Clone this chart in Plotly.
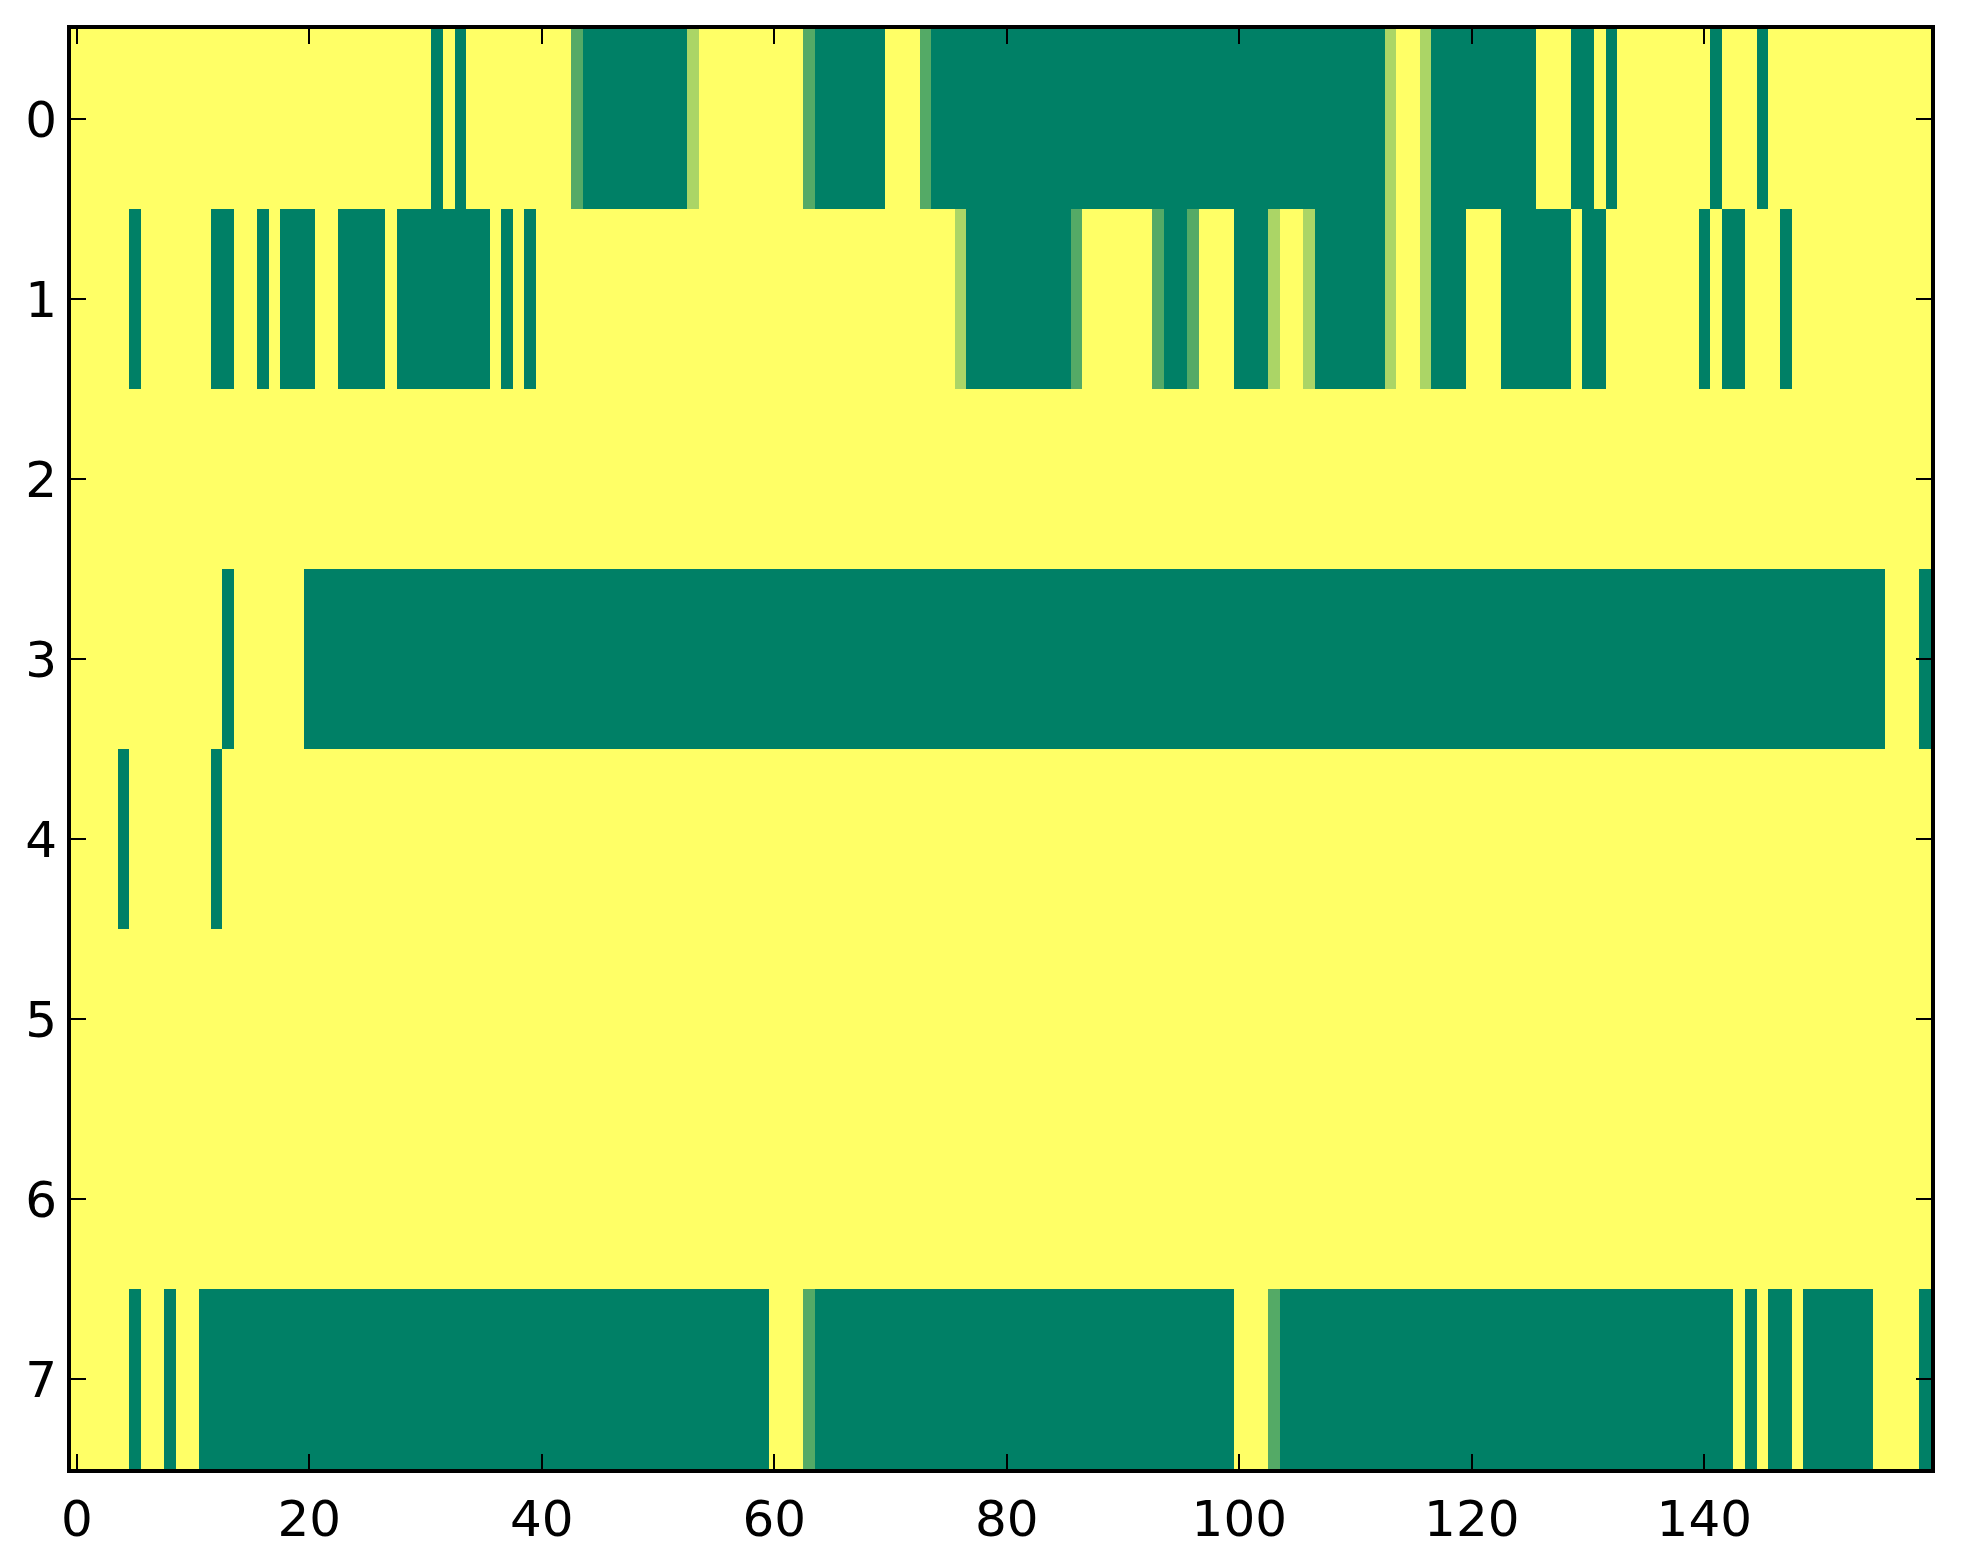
import plotly.graph_objects as go

# Run-length encoded rows: (value, count); 0 = green, 1 = yellow (summer colormap)
row0_runs = [(1, 31), (0, 1), (1, 1), (0, 1), (1, 9), (0.33, 1), (0, 9), (0.67, 1), (1, 9),
             (0.33, 1), (0, 6), (1, 3), (0.33, 1), (0, 39), (0.67, 1), (1, 2), (0.67, 1),
             (0, 9), (1, 3), (0, 2), (1, 1), (0, 1), (1, 8), (0, 1), (1, 3), (0, 1), (1, 14)]
row1_runs = [(1, 5), (0, 1), (1, 6), (0, 2), (1, 2), (0, 1), (1, 1), (0, 3), (1, 2), (0, 4),
             (1, 1), (0, 8), (1, 1), (0, 1), (1, 1), (0, 1), (1, 36), (0.67, 1), (0, 9),
             (0.33, 1), (1, 6), (0.33, 1), (0, 2), (0.33, 1), (1, 3), (0, 3), (0.67, 1),
             (1, 2), (0.67, 1), (0, 6), (0.67, 1), (1, 2), (0.67, 1), (0, 3), (1, 3), (0, 6),
             (1, 1), (0, 2), (1, 8), (0, 1), (1, 1), (0, 2), (1, 3), (0, 1), (1, 12)]
row2_runs = [(1, 160)]
row3_runs = [(1, 13), (0, 1), (1, 6), (0, 136), (1, 3), (0, 1)]
row4_runs = [(1, 4), (0, 1), (1, 7), (0, 1), (1, 147)]
row5_runs = [(1, 160)]
row6_runs = [(1, 160)]
row7_runs = [(1, 5), (0, 1), (1, 2), (0, 1), (1, 2), (0, 49), (1, 3), (0.33, 1), (0, 36),
             (1, 3), (0.33, 1), (0, 39), (1, 1), (0, 1), (1, 1), (0, 2), (1, 1), (0, 6),
             (1, 4), (0, 1)]

rows = [row0_runs, row1_runs, row2_runs, row3_runs, row4_runs, row5_runs, row6_runs, row7_runs]

x_ticks = [0, 20, 40, 60, 80, 100, 120, 140]
y_ticks = [0, 1, 2, 3, 4, 5, 6, 7]


def expand(runs):
    out = []
    for v, n in runs:
        out.extend([v] * n)
    return out


z = [expand(r) for r in rows]
ncols = len(z[0])

fig = go.Figure(go.Heatmap(
    z=z,
    x=list(range(ncols)),
    y=list(range(len(z))),
    colorscale=[[0, '#008066'], [1, '#ffff66']],
    zmin=0, zmax=1,
    showscale=False,
    hoverinfo='skip',
))

axis_common = dict(
    showline=True, linecolor='black', linewidth=4, mirror='ticks',
    ticks='inside', ticklen=15, tickwidth=2, tickcolor='black',
    showgrid=False, zeroline=False,
    tickfont=dict(family='DejaVu Sans', size=50, color='black'),
)

fig.update_layout(
    width=1955, height=1556,
    margin=dict(l=63, r=32, t=21, b=95),
    paper_bgcolor='white', plot_bgcolor='white',
    xaxis=dict(range=[-0.5, ncols - 0.5], tickmode='array', tickvals=x_ticks,
               ticktext=[str(t) for t in x_ticks], ticklabelstandoff=3, **axis_common),
    yaxis=dict(range=[7.5, -0.5], tickmode='array', tickvals=y_ticks,
               ticktext=[str(t) for t in y_ticks], ticklabelstandoff=0, **axis_common),
)

fig.write_html("out.html")
